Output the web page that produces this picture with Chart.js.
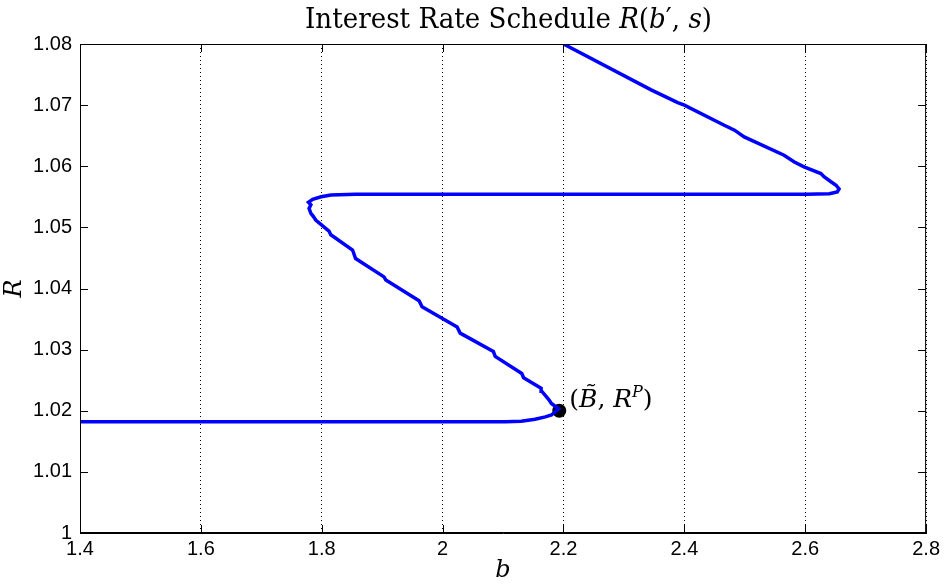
<!DOCTYPE html>
<html>
<head>
<meta charset="utf-8">
<script src="https://cdn.jsdelivr.net/npm/chart.js@4/dist/chart.umd.min.js"></script>
<style>
html,body{margin:0;padding:0;background:#fff;}
#wrap{width:944px;height:585px;}
</style>
</head>
<body>
<div id="wrap"><canvas id="c" width="944" height="585"></canvas></div>
<script>
// ---- data ----
const bValues = [1.4, 1.6, 1.8, 2.0, 2.104, 2.13, 2.153, 2.17, 2.18, 2.186, 2.192,
  2.180, 2.176, 2.164, 2.163, 2.134, 2.131, 2.087, 2.084, 2.029, 2.024, 1.966, 1.961,
  1.906, 1.903, 1.856, 1.851, 1.815, 1.812, 1.790, 1.786, 1.782, 1.779, 1.782, 1.778,
  1.785, 1.799, 1.815, 1.856, 2.0, 2.2, 2.4, 2.6, 2.64, 2.653, 2.656, 2.651, 2.642,
  2.631, 2.626, 2.598, 2.582, 2.565, 2.499, 2.483, 2.466, 2.400, 2.389, 2.345, 2.2];
const rValues = [1.0182, 1.0182, 1.0182, 1.0182, 1.0182, 1.0183, 1.0186, 1.0190, 1.0193, 1.0198, 1.0203,
  1.0212, 1.0218, 1.0232, 1.0237, 1.0254, 1.0261, 1.0289, 1.0297, 1.0327, 1.0337, 1.0370, 1.0380,
  1.0414, 1.0419, 1.0449, 1.0463, 1.0488, 1.0494, 1.0512, 1.0518, 1.0523, 1.0531, 1.0537, 1.0541,
  1.0546, 1.0550, 1.0553, 1.0554, 1.0554, 1.0554, 1.0554, 1.0554, 1.0555, 1.0558, 1.0563, 1.0569, 1.0575,
  1.0583, 1.0588, 1.0599, 1.0607, 1.0618, 1.0648, 1.0659, 1.0667, 1.0700, 1.0704, 1.0725, 1.0800];
const markerB = [2.193];
const markerR = [1.0200];
const xTicks = [1.4, 1.6, 1.8, 2.0, 2.2, 2.4, 2.6, 2.8];
const yTicks = [1.00, 1.01, 1.02, 1.03, 1.04, 1.05, 1.06, 1.07, 1.08];

const curve = bValues.map((b, i) => ({x: b, y: rValues[i]}));
const marker = markerB.map((b, i) => ({x: b, y: markerR[i]}));

const SERIF = "'DejaVu Serif', 'Liberation Serif', serif";
const SANS = "'Liberation Sans', Arial, sans-serif";

function drawRuns(ctx, runs, x, y) {
  let cx = x;
  for (const r of runs) {
    ctx.font = r.font;
    const dy = r.dy || 0;
    ctx.fillText(r.t, cx, y + dy);
    cx += ctx.measureText(r.t).width;
  }
  return cx - x;
}
function runsWidth(ctx, runs) {
  let w = 0;
  for (const r of runs) { ctx.font = r.font; w += ctx.measureText(r.t).width; }
  return w;
}

const decor = {
  id: 'decor',
  afterDraw(chart) {
    const {ctx, chartArea: a, scales} = chart;
    const xs = scales.x, ys = scales.y;
    ctx.save();
    // frame
    ctx.strokeStyle = '#000';
    ctx.lineWidth = 1;
    ctx.strokeRect(a.left + 0.5, a.top + 0.5, a.right - a.left - 1, a.bottom - a.top - 1);
    // inside tick marks
    ctx.beginPath();
    xTicks.forEach(v => {
      const px = Math.round(xs.getPixelForValue(v)) + 0.5;
      ctx.moveTo(px, a.bottom); ctx.lineTo(px, a.bottom - 8);
      ctx.moveTo(px, a.top); ctx.lineTo(px, a.top + 8);
    });
    yTicks.forEach(v => {
      const py = Math.round(ys.getPixelForValue(v)) + 0.5;
      ctx.moveTo(a.left, py); ctx.lineTo(a.left + 8, py);
      ctx.moveTo(a.right, py); ctx.lineTo(a.right - 8, py);
    });
    ctx.stroke();

    // title
    ctx.fillStyle = '#000';
    ctx.textBaseline = 'alphabetic';
    const up = "27px " + SERIF, it = "italic 27px " + SERIF;
    const titleRuns = [
      {t: 'Interest Rate Schedule ', font: up},
      {t: 'R', font: it}, {t: '(', font: up}, {t: 'b', font: it},
      {t: '\u2032, ', font: up}, {t: 's', font: it}, {t: ')', font: up}
    ];
    const tw = runsWidth(ctx, titleRuns);
    const target = 407;
    ctx.save();
    ctx.translate(305, 28);
    ctx.scale(target / tw, 1);
    drawRuns(ctx, titleRuns, 0, 0);
    ctx.restore();

    // marker label
    const mx = xs.getPixelForValue(markerB[0]);
    const my = ys.getPixelForValue(markerR[0]);
    const u = "25px " + SERIF, i2 = "italic 25px " + SERIF, sup = "italic 16px " + SERIF;
    drawRuns(ctx, [
      {t: '(', font: u}, {t: 'B\u0303', font: i2}, {t: ', ', font: u},
      {t: 'R', font: i2}, {t: 'P', font: sup, dy: -10}, {t: ')', font: u}
    ], mx + 10, my - 4);
    ctx.restore();
  }
};

new Chart(document.getElementById('c'), {
  type: 'scatter',
  data: {
    datasets: [
      {
        label: 'R(b\u2032, s)',
        data: curve,
        showLine: true,
        borderColor: '#0000ff',
        backgroundColor: '#0000ff',
        borderWidth: 3.5,
        pointRadius: 0,
        tension: 0
      },
      {
        label: '(B\u0303, R^P)',
        data: marker,
        showLine: false,
        pointRadius: 7,
        pointBackgroundColor: '#000',
        pointBorderColor: '#000',
        pointBorderWidth: 0
      }
    ]
  },
  options: {
    responsive: false,
    animation: false,
    devicePixelRatio: 1,
    layout: {padding: {top: 44, right: 15, left: 0, bottom: 0}},
    plugins: {legend: {display: false}, tooltip: {enabled: false}, title: {display: false}},
    scales: {
      x: {
        type: 'linear',
        min: 1.4, max: 2.8,
        afterFit(s) { s.height = 52; },
        afterBuildTicks(s) { s.ticks = xTicks.map(v => ({value: v})); },
        ticks: {
          color: '#000',
          padding: 4,
          maxRotation: 0,
          font: {family: SANS, size: 20},
          callback: v => String(Math.round(v * 10) / 10)
        },
        grid: {display: true, color: '#000', lineWidth: 1, drawTicks: false},
        border: {display: true, color: '#000', width: 1, dash: [1, 3]},
        title: {display: true, text: 'b', color: '#000', padding: {top: 0, bottom: 0},
                font: {family: SERIF, size: 24, style: 'italic'}}
      },
      y: {
        type: 'linear',
        min: 1.0, max: 1.08,
        afterFit(s) { s.width = 80; },
        afterBuildTicks(s) { s.ticks = yTicks.map(v => ({value: v})); },
        ticks: {
          color: '#000',
          padding: 8,
          font: {family: SANS, size: 20},
          callback: v => String(Math.round(v * 100) / 100)
        },
        grid: {display: false, drawTicks: false},
        border: {display: true, color: '#000', width: 1},
        title: {display: true, text: 'R', color: '#000', padding: {top: 0, bottom: 0},
                font: {family: SERIF, size: 24, style: 'italic'}}
      }
    }
  },
  plugins: [decor]
});
</script>
</body>
</html>
